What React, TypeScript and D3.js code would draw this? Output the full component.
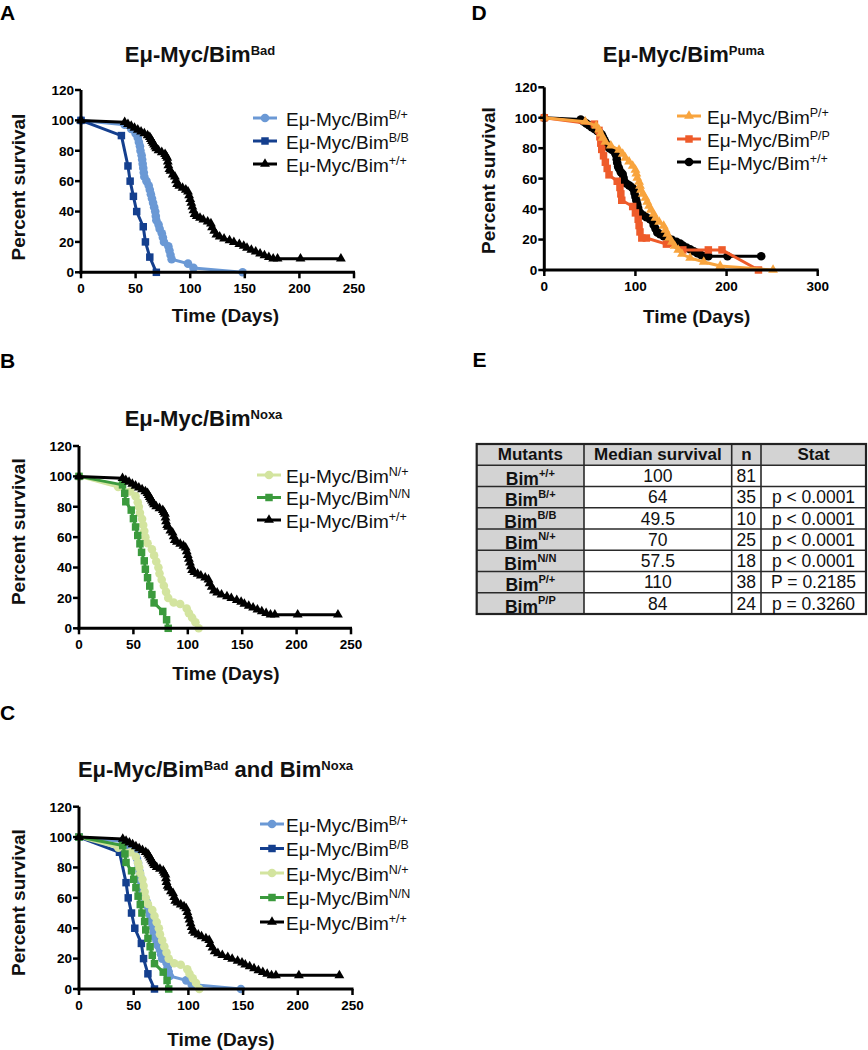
import React from 'react';
import * as d3 from 'd3';

type Pt = [number, number];

// ---------- DATA (day, percent survival) ----------
const wtSurvival: Pt[] = [
  [0, 100], [40, 98.8], [43, 97.5], [46, 96.3], [49, 95.1], [52, 93.8], [55, 92.6], [58, 91.4],
  [61, 90.1], [63, 88.9], [64, 87.7], [65, 86.4], [66, 85.2], [67, 84], [68, 82.7], [69, 81.5],
  [71, 80.2], [74, 79], [77, 77.8], [78, 76.5], [79, 75.3], [79.5, 72.8], [80, 70.4], [81, 67.9],
  [82, 66.7], [84, 64.2], [86, 63], [87, 60.5], [88, 58], [90, 56.8], [93, 55.6], [96, 54.3],
  [98, 53.1], [99, 50.6], [100, 48.1], [101, 45.7], [102, 43.2], [103, 40.7], [104, 38.3],
  [106, 37], [109, 35.8], [112, 34.6], [116, 33.3], [119, 32.1], [120, 29.6], [122, 27.2],
  [124, 24.7], [127, 23.5], [131, 22.2], [136, 21], [140, 19.8], [145, 18.5], [149, 17.3],
  [152, 16], [156, 14.8], [160, 13.6], [164, 12.3], [168, 11.1], [172, 9.9], [176, 9],
  [180, 9], [201, 9], [238, 9],
];
const badHetSurvival: Pt[] = [
  [0, 100], [40, 97.1], [46, 94.3], [50, 91.4], [52, 88.6], [53, 85.7], [54, 82.9], [54.5, 80],
  [55.5, 77.1], [56, 74.3], [56.5, 71.4], [57, 68.6], [57.5, 65.7], [58, 62.9], [60, 60],
  [62, 57.1], [63, 54.3], [64, 51.4], [65, 48.6], [66, 45.7], [67, 42.9], [68, 40], [68.5, 37.1],
  [69, 34.3], [71, 31.4], [72, 28.6], [74, 25.7], [75, 22.9], [76, 20], [80, 17.1], [81, 14.3],
  [82, 11.4], [83, 8.6], [98, 5.7], [103, 2.9], [148, 0],
];
const badHomSurvival: Pt[] = [
  [0, 100], [37, 90], [43, 70], [45, 60], [48, 50], [51, 40], [57, 30], [59, 20], [63, 10], [69, 0],
];
const noxaHetSurvival: Pt[] = [
  [0, 100], [36, 93], [47, 90], [52, 87], [54, 83], [55, 80], [56, 76], [58, 72], [59, 68],
  [60, 64], [61, 60], [63, 56], [67, 52], [69, 48], [71, 44], [73, 40], [74, 36], [76, 32],
  [78, 28], [80, 24], [82, 20], [87, 17], [93, 16], [99, 13], [101, 10], [104, 7], [107, 4], [110, 0],
];
const noxaHomSurvival: Pt[] = [
  [0, 100], [40, 94.4], [42, 88.9], [43, 83.3], [48, 77.8], [50, 72.2], [52, 66.7], [54, 61.1],
  [56, 55.6], [57.5, 50], [60, 44.4], [61, 38.9], [63, 33.3], [65, 27.8], [67, 22.2], [69, 16.7],
  [77, 11.1], [80.5, 5.6], [82, 0],
];
const pumaHetSurvival: Pt[] = [
  [0, 100], [45, 97.4], [57, 94.7], [60, 92.1], [62, 89.5], [64, 86.8], [67, 84.2], [73, 81.6],
  [82, 78.9], [86, 76.3], [89, 73.7], [93, 71.1], [97, 68.4], [100, 65.8], [101, 63.2], [102, 60.5],
  [104, 57.9], [105, 55.3], [106, 52.6], [108, 50], [111, 47.4], [113, 44.7], [115, 42.1],
  [117, 39.5], [120, 36.8], [122, 34.2], [126, 31.6], [131, 28.9], [133, 26.3], [135, 23.7],
  [137, 21.1], [140, 18.4], [143, 15.8], [147, 13.2], [151, 10.5], [160, 7.9], [175, 5.3],
  [193, 2.6], [251, 0],
];
const pumaHomSurvival: Pt[] = [
  [0, 100], [55, 95.8], [60, 91.7], [61, 87.5], [62, 83.3], [63, 79.2], [65, 75], [67, 70.8],
  [69, 66.7], [71, 62.5], [80, 58.3], [83, 54.2], [84, 50], [85, 45.8], [97, 41.7], [100, 37.5],
  [103, 33.3], [104, 29.2], [105, 25], [107, 21], [112, 21], [134, 17], [152, 13.2], [180, 13.2],
  [195, 13.2], [235, 0],
];

const yTicks = [0, 20, 40, 60, 80, 100, 120];
const xTicks250 = [0, 50, 100, 150, 200, 250];
const xTicks300 = [0, 100, 200, 300];

const tableHeaders = ['Mutants', 'Median survival', 'n', 'Stat'];
const tableGenotypes = ['+/+', 'B/+', 'B/B', 'N/+', 'N/N', 'P/+', 'P/P'];
const tableMedians = ['100', '64', '49.5', '70', '57.5', '110', '84'];
const tableCounts = ['81', '35', '10', '25', '18', '38', '24'];
const tableStats = ['', 'p < 0.0001', 'p < 0.0001', 'p < 0.0001', 'p < 0.0001', 'P = 0.2185', 'p = 0.3260'];

// ---------- STYLE ----------
const FONT = "'Liberation Sans', Arial, Helvetica, sans-serif";
const C_LBLUE = '#6b99d5';
const C_DBLUE = '#143f8e';
const C_LGREEN = '#d3e49f';
const C_GREEN = '#3b9a3d';
const C_ORANGE = '#f8a43e';
const C_RED = '#ee5b2a';
const C_BLACK = '#000000';

type Shape = 'circle' | 'square' | 'triangle';
interface Series { sup: string; data: Pt[]; color: string; shape: Shape; }

const S_WT_TRI: Series = { sup: '+/+', data: wtSurvival, color: C_BLACK, shape: 'triangle' };
const S_WT_CIR: Series = { sup: '+/+', data: wtSurvival, color: C_BLACK, shape: 'circle' };
const S_BH: Series = { sup: 'B/+', data: badHetSurvival, color: C_LBLUE, shape: 'circle' };
const S_BB: Series = { sup: 'B/B', data: badHomSurvival, color: C_DBLUE, shape: 'square' };
const S_NH: Series = { sup: 'N/+', data: noxaHetSurvival, color: C_LGREEN, shape: 'circle' };
const S_NN: Series = { sup: 'N/N', data: noxaHomSurvival, color: C_GREEN, shape: 'square' };
const S_PH: Series = { sup: 'P/+', data: pumaHetSurvival, color: C_ORANGE, shape: 'triangle' };
const S_PP: Series = { sup: 'P/P', data: pumaHomSurvival, color: C_RED, shape: 'square' };

function symbolPath(shape: Shape): string {
  const t = shape === 'circle' ? d3.symbolCircle : shape === 'square' ? d3.symbolSquare : d3.symbolTriangle;
  const size = shape === 'circle' ? 58 : shape === 'square' ? 56 : 42;
  return d3.symbol().type(t).size(size)() as string;
}

interface TitlePart { text: string; sup?: boolean; }

interface PanelProps {
  letter: string; letterX: number; letterY: number;
  title: TitlePart[]; titleX: number; titleY: number;
  x0: number; x1: number; y0: number; y1: number;
  xMax: number; xTicks: number[];
  yLabelX: number; yLabelY: number;
  xLabelX: number; xLabelY: number;
  series: Series[]; drawOrder: Series[];
  legLineX: number; legTextX: number; legYs: number[];
}

function Panel(p: PanelProps) {
  const x = d3.scaleLinear().domain([0, p.xMax]).range([p.x0, p.x1]);
  const y = d3.scaleLinear().domain([0, 120]).range([p.y0, p.y1]);
  const line = d3.line<Pt>().x(d => x(d[0])).y(d => y(d[1]));
  const titleEls: React.ReactNode[] = [];
  let raised = false;
  p.title.forEach((t, i) => {
    let dy = 0;
    if (t.sup && !raised) { dy = -7; raised = true; }
    else if (!t.sup && raised) { dy = 7; raised = false; }
    titleEls.push(
      <tspan key={i} dy={dy} fontSize={t.sup ? 13 : 22}>{t.text}</tspan>
    );
  });
  return (
    <g>
      <text x={p.letterX} y={p.letterY} fontSize={21} fontWeight="bold" fontFamily={FONT}>{p.letter}</text>
      <text x={p.titleX} y={p.titleY} textAnchor="middle" fontWeight="bold" fontFamily={FONT} fill="#111">{titleEls}</text>
      {/* curves */}
      {p.drawOrder.map((s, i) => (
        <g key={i}>
          <path d={line(s.data) as string} fill="none" stroke={s.color} strokeWidth={3} strokeLinejoin="round" />
          {s.data.map((d, j) => (
            <path key={j} d={symbolPath(s.shape)} transform={`translate(${x(d[0])},${y(d[1])})`} fill={s.color} />
          ))}
        </g>
      ))}
      {/* axes */}
      <line x1={p.x0} x2={p.x0} y1={y(120)} y2={y(0) + 1.5} stroke="#000" strokeWidth={3} />
      <line x1={p.x0 - 1.5} x2={x(p.xMax) + 1} y1={y(0)} y2={y(0)} stroke="#000" strokeWidth={3} />
      {yTicks.map(t => (
        <g key={'y' + t}>
          <line x1={p.x0 - 6} x2={p.x0} y1={y(t)} y2={y(t)} stroke="#000" strokeWidth={2.5} />
          <text x={p.x0 - 7} y={y(t)} dy="0.36em" textAnchor="end" fontSize={13.5} fontWeight="bold" fontFamily={FONT}>{t}</text>
        </g>
      ))}
      {p.xTicks.map(t => (
        <g key={'x' + t}>
          <line x1={x(t)} x2={x(t)} y1={y(0)} y2={y(0) + 6} stroke="#000" strokeWidth={2.5} />
          <text x={x(t)} y={y(0) + 21} textAnchor="middle" fontSize={13.5} fontWeight="bold" fontFamily={FONT}>{t}</text>
        </g>
      ))}
      <text transform={`translate(${p.yLabelX},${p.yLabelY}) rotate(-90)`} textAnchor="middle" fontSize={19} fontWeight="bold" fontFamily={FONT} fill="#111">Percent survival</text>
      <text x={p.xLabelX} y={p.xLabelY} textAnchor="middle" fontSize={19} fontWeight="bold" fontFamily={FONT} fill="#111">Time (Days)</text>
      {/* legend */}
      {p.series.map((s, i) => (
        <g key={'l' + i}>
          <line x1={p.legLineX} x2={p.legLineX + 24} y1={p.legYs[i]} y2={p.legYs[i]} stroke={s.color} strokeWidth={3} />
          <path d={symbolPath(s.shape)} transform={`translate(${p.legLineX + 12},${p.legYs[i]})`} fill={s.color} />
          <text x={p.legTextX} y={p.legYs[i] + 7.5} fontSize={19} fontFamily={FONT} fill="#111">
            Eμ-Myc/Bim<tspan dy={-7} fontSize={12.5}>{s.sup}</tspan>
          </text>
        </g>
      ))}
    </g>
  );
}

function Table() {
  const colX = [476.7, 584, 731.7, 761, 866];
  const top = 444;
  const rowH = 21.25;
  const rowYs = d3.range(tableGenotypes.length + 2).map(i => top + i * rowH);
  const bottom = rowYs[rowYs.length - 1];
  const cx = (c: number) => (colX[c] + colX[c + 1]) / 2;
  return (
    <g fontFamily={FONT}>
      <text x={472.5} y={366.7} fontSize={21} fontWeight="bold">E</text>
      {/* gray header row */}
      <rect x={colX[0]} y={rowYs[0]} width={colX[4] - colX[0]} height={rowH} fill="#d3d3d3" />
      {/* gray first column */}
      <rect x={colX[0]} y={rowYs[0]} width={colX[1] - colX[0]} height={bottom - rowYs[0]} fill="#d3d3d3" />
      {rowYs.slice(1, -1).map((ry, i) => (
        <line key={'r' + i} x1={colX[0]} x2={colX[4]} y1={ry} y2={ry} stroke="#2a2a2a" strokeWidth={1.6} />
      ))}
      {colX.slice(1, -1).map((cxv, i) => (
        <line key={'c' + i} x1={cxv} x2={cxv} y1={rowYs[0]} y2={bottom} stroke="#2a2a2a" strokeWidth={1.6} />
      ))}
      <rect x={colX[0]} y={rowYs[0]} width={colX[4] - colX[0]} height={bottom - rowYs[0]} fill="none" stroke="#222" strokeWidth={2.2} />
      {tableHeaders.map((h, c) => (
        <text key={'h' + c} x={cx(c)} y={rowYs[1] - 5.3} textAnchor="middle" fontSize={17} fontWeight="bold" fill="#111">{h}</text>
      ))}
      {tableGenotypes.map((g, r) => {
        const rb = rowYs[r + 2];
        return (
          <g key={'row' + r}>
            <text x={cx(0)} y={rb - 1.5} textAnchor="middle" fontSize={17.5} fontWeight="bold" fill="#111">
              Bim<tspan dy={-8.5} fontSize={11}>{g}</tspan>
            </text>
            <text x={cx(1)} y={rb - 4.5} textAnchor="middle" fontSize={17.5} fill="#111">{tableMedians[r]}</text>
            <text x={cx(2)} y={rb - 4.5} textAnchor="middle" fontSize={17.5} fill="#111">{tableCounts[r]}</text>
            <text x={cx(3)} y={rb - 4.5} textAnchor="middle" fontSize={17.5} fill="#111">{tableStats[r]}</text>
          </g>
        );
      })}
    </g>
  );
}

export default function App() {
  return (
    <svg width={868} height={1050} style={{ position: 'absolute', left: 0, top: 0, background: '#fff' }}>
      <rect x={0} y={0} width={868} height={1050} fill="#fff" />
      <Panel
        letter="A" letterX={0} letterY={19.5}
        title={[{ text: 'Eμ-Myc/Bim' }, { text: 'Bad', sup: true }]} titleX={200} titleY={62}
        x0={81} x1={354} y0={272.3} y1={90} xMax={250} xTicks={xTicks250}
        yLabelX={25} yLabelY={187} xLabelX={225.5} xLabelY={322}
        series={[S_BH, S_BB, S_WT_TRI]} drawOrder={[S_BH, S_BB, S_WT_TRI]}
        legLineX={253} legTextX={286} legYs={[118, 141, 164]}
      />
      <Panel
        letter="B" letterX={0} letterY={368.3}
        title={[{ text: 'Eμ-Myc/Bim' }, { text: 'Noxa', sup: true }]} titleX={203.5} titleY={426}
        x0={79} x1={351} y0={628.3} y1={446} xMax={250} xTicks={xTicks250}
        yLabelX={25} yLabelY={531.7} xLabelX={226} xLabelY={680}
        series={[S_NH, S_NN, S_WT_TRI]} drawOrder={[S_NH, S_NN, S_WT_TRI]}
        legLineX={257} legTextX={286} legYs={[475, 497.5, 520]}
      />
      <Panel
        letter="C" letterX={0} letterY={720.3}
        title={[{ text: 'Eμ-Myc/Bim' }, { text: 'Bad', sup: true }, { text: ' and Bim' }, { text: 'Noxa', sup: true }]}
        titleX={215.5} titleY={777}
        x0={79} x1={352.5} y0={989} y1={806.7} xMax={250} xTicks={xTicks250}
        yLabelX={25} yLabelY={902.5} xLabelX={221} xLabelY={1046}
        series={[S_BH, S_BB, S_NH, S_NN, S_WT_TRI]} drawOrder={[S_BH, S_BB, S_NH, S_NN, S_WT_TRI]}
        legLineX={260} legTextX={286} legYs={[824, 848.5, 873, 897.5, 922]}
      />
      <Panel
        letter="D" letterX={471.5} letterY={19.5}
        title={[{ text: 'Eμ-Myc/Bim' }, { text: 'Puma', sup: true }]} titleX={683.5} titleY={62}
        x0={544.3} x1={817.7} y0={270} y1={87.3} xMax={300} xTicks={xTicks300}
        yLabelX={495} yLabelY={180.5} xLabelX={696.7} xLabelY={323}
        series={[S_PH, S_PP, S_WT_CIR]} drawOrder={[S_WT_CIR, S_PP, S_PH]}
        legLineX={677} legTextX={707} legYs={[116, 139, 162]}
      />
      <Table />
    </svg>
  );
}
